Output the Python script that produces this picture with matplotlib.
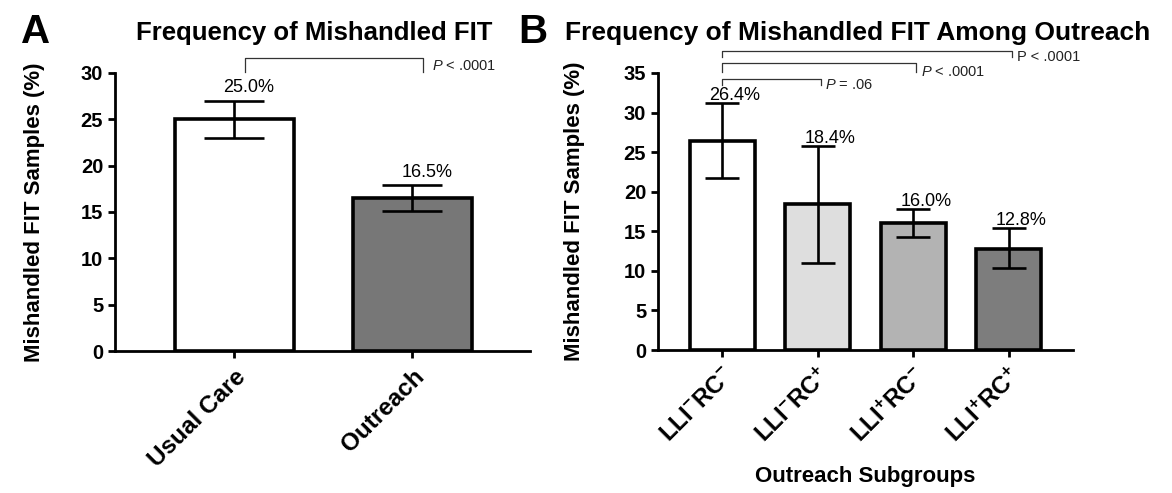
import matplotlib
matplotlib.use("Agg")
import matplotlib.pyplot as plt

plt.rcParams['font.family'] = ['Liberation Sans', 'DejaVu Sans']
plt.rcParams['mathtext.fontset'] = 'custom'
plt.rcParams['mathtext.rm'] = 'Liberation Sans:bold'
plt.rcParams['mathtext.bf'] = 'Liberation Sans:bold'
plt.rcParams['mathtext.it'] = 'Liberation Sans:italic'

# ---- Data ----
a_categories = ["Usual Care", "Outreach"]
a_values = [25.0, 16.5]
a_err_low = [23.0, 15.1]
a_err_high = [27.0, 17.9]
a_colors = ["#ffffff", "#777777"]
a_labels = ["25.0%", "16.5%"]

b_categories = ["LLI$^{-}$RC$^{-}$", "LLI$^{-}$RC$^{+}$", "LLI$^{+}$RC$^{-}$", "LLI$^{+}$RC$^{+}$"]
b_values = [26.4, 18.4, 16.0, 12.8]
b_err_low = [21.7, 11.0, 14.3, 10.3]
b_err_high = [31.2, 25.8, 17.8, 15.4]
b_colors = ["#ffffff", "#dedede", "#b3b3b3", "#7d7d7d"]
b_labels = ["26.4%", "18.4%", "16.0%", "12.8%"]

fig = plt.figure(figsize=(11.72, 4.93), dpi=100)
axA = fig.add_axes([0.0981, 0.288, 0.3541, 0.564])
axB = fig.add_axes([0.5614, 0.290, 0.3541, 0.562])

def style(ax):
    for s in ['top', 'right']:
        ax.spines[s].set_visible(False)
    for s in ['left', 'bottom']:
        ax.spines[s].set_linewidth(2.0)
    ax.tick_params(axis='both', direction='out', length=5, width=2)
    ax.tick_params(axis='y', labelsize=14.5)
    ax.tick_params(axis='x', pad=5)
    for lbl in ax.get_yticklabels():
        lbl.set_fontweight('bold')

# ---- Panel A ----
xa = list(range(len(a_categories)))
axA.bar(xa, a_values, width=0.67, color=a_colors, edgecolor='black', linewidth=2.6, zorder=2)
yerrA = [[v - l for v, l in zip(a_values, a_err_low)], [h - v for v, h in zip(a_values, a_err_high)]]
axA.errorbar(xa, a_values, yerr=yerrA, fmt='none', ecolor='black', elinewidth=1.9, capsize=21.5, capthick=1.9, zorder=3)
axA.set_xlim(-0.67, 1.66)
axA.set_ylim(0, 30)
axA.set_yticks([0, 5, 10, 15, 20, 25, 30])
axA.set_xticks(xa)
axA.set_xticklabels(a_categories, rotation=45, ha='right', va='top', rotation_mode='anchor', fontsize=17.5, fontweight='bold')
style(axA)
for x, h, t in zip(xa, a_err_high, a_labels):
    axA.text(x + 0.08, h + 1.4, t, ha='center', va='center', fontsize=13)
axA.set_ylabel("Mishandled FIT Samples (%)", fontsize=16, fontweight='bold')
axA.yaxis.label.set_va('center')
axA.yaxis.set_label_coords(-0.195, 0.5)
axA.set_title("Frequency of Mishandled FIT", fontsize=18.5, fontweight='bold', pad=24, x=0.48)
# bracket
axA.plot([0.06, 0.06, 1.06, 1.06], [30.1, 31.6, 31.6, 30.1], color='#333333', lw=0.9, clip_on=False)
axA.text(1.11, 30.8, "$P$ < .0001", fontsize=10.5, ha='left', va='center', color='#222222')
fig.text(0.018, 0.912, "A", fontsize=29, fontweight='bold')

# ---- Panel B ----
xb = list(range(len(b_categories)))
axB.bar(xb, b_values, width=0.68, color=b_colors, edgecolor='black', linewidth=2.6, zorder=2)
yerrB = [[v - l for v, l in zip(b_values, b_err_low)], [h - v for v, h in zip(b_values, b_err_high)]]
axB.errorbar(xb, b_values, yerr=yerrB, fmt='none', ecolor='black', elinewidth=1.9, capsize=12, capthick=1.9, zorder=3)
axB.set_xlim(-0.67, 3.67)
axB.set_ylim(0, 35)
axB.set_yticks([0, 5, 10, 15, 20, 25, 30, 35])
axB.set_xticks(xb)
axB.set_xticklabels(b_categories, rotation=45, ha='right', va='top', rotation_mode='anchor', fontsize=17.5, fontweight='bold')
style(axB)
for x, h, t in zip(xb, b_err_high, b_labels):
    axB.text(x + 0.13, h + 0.9, t, ha='center', va='center', fontsize=13)
axB.set_ylabel("Mishandled FIT Samples (%)", fontsize=16, fontweight='bold')
axB.yaxis.label.set_va('center')
axB.yaxis.set_label_coords(-0.202, 0.5)
axB.set_xlabel("Outreach Subgroups", fontsize=16, fontweight='bold')
axB.xaxis.label.set_va('center')
axB.xaxis.set_label_coords(0.5, -0.458)
axB.set_title("Frequency of Mishandled FIT Among Outreach", fontsize=19, fontweight='bold', pad=24, x=0.48)
brackets = [(0, 1, 33.5, 34.3, "$P$ = .06"),
            (0, 2, 35.1, 36.2, "$P$ < .0001"),
            (0, 3, 37.0, 37.8, "P < .0001")]
for x0, x1, yd, yt, t in brackets:
    axB.plot([x0, x0, x1 + 0.03, x1 + 0.03], [yd, yt, yt, yd], color='#333333', lw=0.9, clip_on=False)
    axB.text(x1 + 0.08, yd + 0.0, t, fontsize=10.5, ha='left', va='center', color='#222222')
fig.text(0.442, 0.912, "B", fontsize=29, fontweight='bold')

fig.savefig("out.png", dpi=100)
